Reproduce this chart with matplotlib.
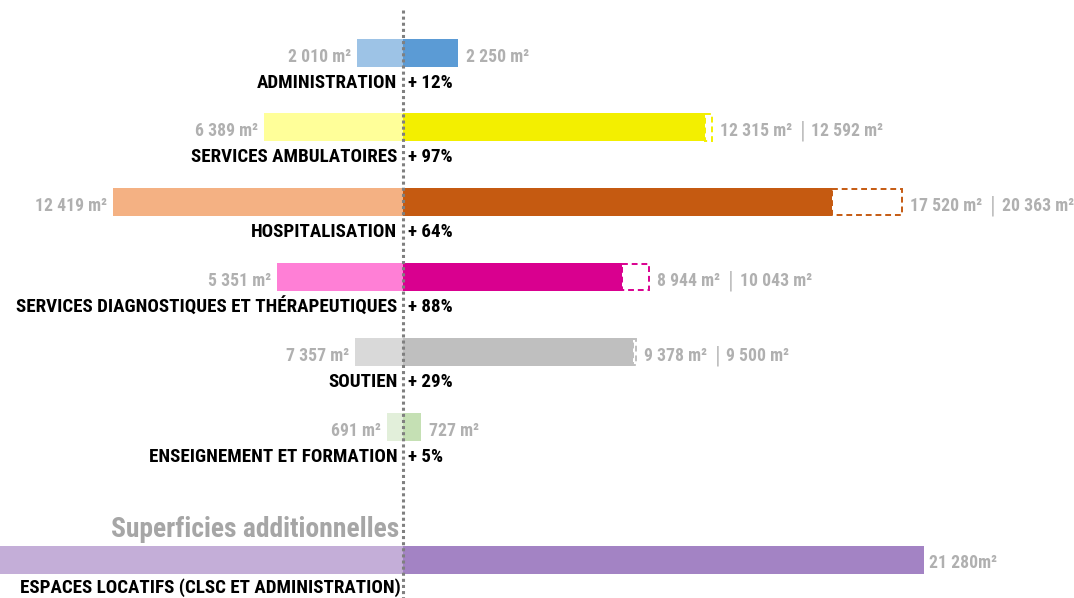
import matplotlib
matplotlib.use("Agg")
import matplotlib.pyplot as plt
from matplotlib.patches import Rectangle

# ---------------- data ----------------
categories = [
    "ADMINISTRATION",
    "SERVICES AMBULATOIRES",
    "HOSPITALISATION",
    "SERVICES DIAGNOSTIQUES ET THÉRAPEUTIQUES",
    "SOUTIEN",
    "ENSEIGNEMENT ET FORMATION",
]
before_values = [2010, 6389, 12419, 5351, 7357, 691]          # labelled values (left)
before_drawn = [1880, 5670, 11840, 5140, 1960, 650]           # bar lengths as drawn in the picture
after_values = [2250, 12315, 17520, 8944, 9378, 727]          # right bars
projected_values = [None, 12592, 20363, 10043, 9500, None]    # dashed extensions
growth_pct = [12, 97, 64, 88, 29, 5]

extra_title = "Superficies additionnelles"
extra_label = "ESPACES LOCATIFS (CLSC ET ADMINISTRATION)"
extra_value = 21280

colors_before = ["#9dc3e6", "#ffff99", "#f4b183", "#ff7fd6", "#d9d9d9", "#e2efda"]
colors_after = ["#5b9bd5", "#f3ef00", "#c55a11", "#d9008f", "#bfbfbf", "#c5e0b4"]
extra_colors = ("#c4aed8", "#a383c4")

# ---------------- layout ----------------
W, H = 1074, 598
CX = 403                 # pixel of the centre line
PX_PER_UNIT = 0.0245     # pixels per m2
ROW0, ROW_STEP = 52.5, 74.84
BAR_H = 28 / ROW_STEP
PT = 0.72                # points per pixel at 100 dpi

FONT = ["Roboto Condensed", "DejaVu Sans"]
GREY = "#b0b0b0"
CAT_SIZE = 13.7
VAL_SIZE = 12.7

plt.rcParams["font.family"] = FONT
fig = plt.figure(figsize=(W / 100, H / 100), dpi=100)
ax = fig.add_axes([0, 0, 1, 1])
ax.axis("off")
ax.set_xlim(-CX / PX_PER_UNIT, (W - CX) / PX_PER_UNIT)
ax.set_ylim((H - ROW0) / ROW_STEP, -ROW0 / ROW_STEP)


def fmt(v, sep=" "):
    return f"{v:,}".replace(",", " ") + sep + "m²"


def label(text, xy, dx, dy, ha, color, size, **kw):
    return ax.annotate(text, xy=xy, xytext=(dx * PT, -dy * PT), textcoords="offset points",
                       ha=ha, va="center", color=color, fontsize=size, fontweight="bold",
                       family=FONT, **kw)


for i, cat in enumerate(categories):
    y = i
    ax.barh(y, -before_drawn[i], height=BAR_H, color=colors_before[i], zorder=2)
    ax.barh(y, after_values[i], height=BAR_H, color=colors_after[i], zorder=2)
    right_end = after_values[i]
    if projected_values[i] is not None:
        ax.add_patch(Rectangle((after_values[i], y - BAR_H / 2 + 0.01),
                               projected_values[i] - after_values[i], BAR_H - 0.02,
                               facecolor="white", edgecolor=colors_after[i],
                               linestyle=(0, (3, 2)), linewidth=1.4, zorder=3))
        right_end = projected_values[i]

    label(fmt(before_values[i]), (-before_drawn[i], y), -6, 4, "right", GREY, VAL_SIZE)
    t1 = label(fmt(after_values[i]), (right_end, y), 8, 4, "left", GREY, VAL_SIZE)
    if projected_values[i] is not None:
        sep = ax.annotate("|", xy=(1, 0.5), xycoords=t1, xytext=(8 * PT, 0),
                          textcoords="offset points", ha="left", va="center",
                          color="#c0c0c0", fontsize=17, family=FONT)
        ax.annotate(fmt(projected_values[i]), xy=(1, 0.5), xycoords=sep,
                    xytext=(6 * PT, 0), textcoords="offset points", ha="left",
                    va="center", color=GREY, fontsize=VAL_SIZE, fontweight="bold", family=FONT)

    label(cat, (0, y), -5.5, 30, "right", "black", CAT_SIZE)
    label(f"+ {growth_pct[i]}%", (0, y), 5, 30, "left", "black", CAT_SIZE)

# additional surfaces
ye = (559.5 - ROW0) / ROW_STEP
ax.barh(ye, -extra_value, height=BAR_H, color=extra_colors[0], zorder=2)
ax.barh(ye, extra_value, height=BAR_H, color=extra_colors[1], zorder=2)
label(fmt(extra_value, sep=""), (extra_value, ye), 5, 4, "left", GREY, VAL_SIZE)
label(extra_label, (0, ye), -2, 28, "right", "black", CAT_SIZE)
label(extra_title, (0, ye), -4, -30, "right", "#a6a6a6", 19.9)

# dotted centre line
ax.plot([0, 0], [(10 - ROW0) / ROW_STEP, (H - ROW0) / ROW_STEP], color="#808080",
        linestyle=(0, (1, 1)), linewidth=2.2, zorder=5)

fig.savefig("out.png", dpi=100)
